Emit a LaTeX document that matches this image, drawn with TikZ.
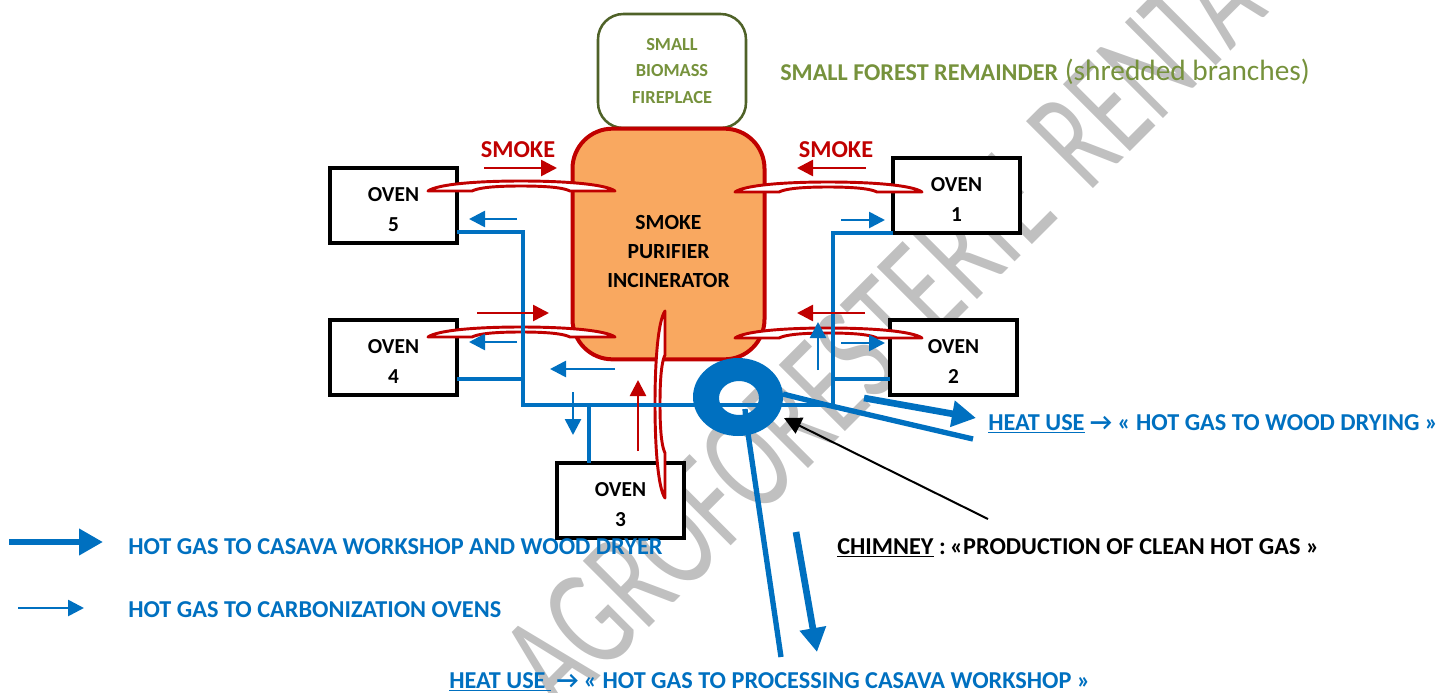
\documentclass[tikz,border=0pt]{standalone}
\usepackage{fontspec}
\usepackage{graphicx}
\setmainfont{Carlito}
\usetikzlibrary{arrows.meta}
\definecolor{bluegas}{HTML}{0070C0}
\definecolor{redsmoke}{HTML}{C00000}
\definecolor{olive}{HTML}{76923C}
\definecolor{olivedark}{HTML}{4F6228}
\definecolor{orangefill}{HTML}{F9A860}
\definecolor{wmgray}{HTML}{C0C0C0}
\newcommand{\lowertext}[1]{\rule{0pt}{#1}}
\tikzset{
  ovenbox/.style={draw=black,line width=2.8pt,fill=white,minimum width=95pt,minimum height=56pt,inner sep=0pt,font=\bfseries\fontsize{16}{22.5}\selectfont,align=center},
  pipeline/.style={draw=bluegas,line width=2.4pt},
  chimneyline/.style={draw=bluegas,line width=4pt},
  thinblue/.style={draw=bluegas,line width=2pt,-{Triangle[length=12pt,width=12pt]}},
  thinred/.style={draw=redsmoke,line width=2pt,-{Triangle[length=12pt,width=12pt]}},
  thickblue/.style={draw=bluegas,line width=5pt,-{Triangle[length=18pt,width=19pt]}},
  pipeshape/.style={draw=redsmoke,line width=2.2pt,fill=white,line join=round},
  bluelabel/.style={text=bluegas,font=\bfseries\fontsize{18.2}{22}\selectfont,inner sep=0pt},
  watermarktext/.style={rotate=45,anchor=south west,text=wmgray,inner sep=0pt,font=\fontsize{50}{50}\selectfont},
}
\newcommand{\smokepipe}{%
  \path[pipeshape] (0,0) .. controls (10,-7) and (50,-10) .. (93,-10)
    .. controls (136,-10) and (177,-7) .. (187,0) -- (142,0)
    .. controls (136,-3) and (122,-5) .. (93,-5)
    .. controls (64,-5) and (50,-3) .. (44,0) -- cycle;}
\begin{document}
\begin{tikzpicture}[x=0.75pt,y=-0.75pt]
\useasboundingbox (0,0) rectangle (1454,693);
\begin{scope}
\clip (0,0) rectangle (1454,693);
\node[watermarktext] (wmone) at (562,717) {\resizebox{530pt}{71pt}{AGROFORESTERIE}};
\node[watermarktext] (wmtwo) at (1088,194) {\resizebox{193pt}{71pt}{RENTA}};
\end{scope}
% boxes
\node[draw=olivedark,line width=1.9pt,fill=white,rounded corners=19pt,minimum width=111pt,minimum height=85.5pt,inner sep=0pt,text=olive,font=\bfseries\fontsize{13.8}{20}\selectfont,align=center] (fireplace) at (672,71) {SMALL\\BIOMASS\\FIREPLACE};
\node[draw=redsmoke,line width=3pt,fill=orangefill,rounded corners=30pt,minimum width=144pt,minimum height=173pt,inner sep=0pt,font=\bfseries\fontsize{16.2}{22}\selectfont,align=center] (purifier) at (668.5,244) {\lowertext{22pt}SMOKE\\PURIFIER\\INCINERATOR};
\node[ovenbox] (oven5) at (393.5,205.5) {\lowertext{16pt}OVEN\\5};
\node[ovenbox] (oven4) at (393.5,357.5) {\lowertext{16pt}OVEN\\4};
\node[ovenbox] (oven1) at (956.5,195.5) {\lowertext{16pt}OVEN\\1};
\node[ovenbox] (oven2) at (953.5,357.5) {\lowertext{16pt}OVEN\\2};
\node[ovenbox] (oven3) at (620.5,500.5) {\lowertext{16pt}OVEN\\3};
% pipes
\begin{scope}[shift={(428,191)}]\smokepipe\end{scope}
\begin{scope}[shift={(428,337)}]\smokepipe\end{scope}
\begin{scope}[shift={(735,192)}]\smokepipe\end{scope}
\begin{scope}[shift={(735,338)}]\smokepipe\end{scope}
\begin{scope}[shift={(665,311)},x={(0pt,-0.75pt)},y={(0.75pt,0pt)}]\smokepipe\end{scope}
% gas lines
\coordinate (t5) at (523,232); \coordinate (s5) at (457,232);
\coordinate (t4) at (523,379); \coordinate (s4) at (457,379);
\coordinate (tl) at (523,405); \coordinate (tr) at (833,405);
\coordinate (t1) at (833,233); \coordinate (s1) at (893,233);
\coordinate (t2) at (833,379); \coordinate (s2) at (890,379);
\coordinate (t3) at (589,405); \coordinate (s3) at (589,463);
\draw[pipeline] (s5) -- (t5) -- (tl) -- (tr) -- (t1) -- (s1);
\draw[pipeline] (s4) -- (t4);
\draw[pipeline] (s2) -- (t2);
\draw[pipeline] (t3) -- (s3);
% chimney
\coordinate (ringc) at (738,397);
\coordinate (holec) at (739,398);
\coordinate (stub) at (745,409);
\coordinate (stubb) at (746,420);
\coordinate (endb) at (781,657);
\coordinate (rstart) at (783,394);
\coordinate (rbend) at (827,405);
\coordinate (rend) at (973,439);
\draw[chimneyline] (stubb) -- (endb);
\draw[chimneyline] (rstart) -- (rbend) -- (rend);
\path[fill=bluegas,even odd rule] (ringc) ellipse [x radius=45,y radius=39] (holec) ellipse [x radius=20,y radius=17];
\draw[chimneyline] (stub) -- (stubb);
% arrows
\coordinate (a1a) at (517,219); \coordinate (a1b) at (469,219);
\draw[thinblue] (a1a) -- (a1b);
\coordinate (a2a) at (517,342); \coordinate (a2b) at (469,342);
\draw[thinblue] (a2a) -- (a2b);
\coordinate (a3a) at (615,369); \coordinate (a3b) at (550,369);
\draw[thinblue] (a3a) -- (a3b);
\coordinate (a4a) at (573,392); \coordinate (a4b) at (573,435);
\draw[thinblue] (a4a) -- (a4b);
\coordinate (a5a) at (818,370); \coordinate (a5b) at (818,322);
\draw[thinblue] (a5a) -- (a5b);
\coordinate (a6a) at (841,343); \coordinate (a6b) at (885,343);
\draw[thinblue] (a6a) -- (a6b);
\coordinate (a7a) at (841,220); \coordinate (a7b) at (885,220);
\draw[thinblue] (a7a) -- (a7b);
\coordinate (r1a) at (484,168); \coordinate (r1b) at (557,168);
\draw[thinred] (r1a) -- (r1b);
\coordinate (r2a) at (477,313); \coordinate (r2b) at (549,313);
\draw[thinred] (r2a) -- (r2b);
\coordinate (r3a) at (865,313); \coordinate (r3b) at (797,313);
\draw[thinred] (r3a) -- (r3b);
\coordinate (r4a) at (866,168); \coordinate (r4b) at (797,168);
\draw[thinred] (r4a) -- (r4b);
\coordinate (r5a) at (638,451); \coordinate (r5b) at (638,380);
\draw[thinred] (r5a) -- (r5b);
\coordinate (h1a) at (864,398); \coordinate (h1b) at (976,418);
\draw[thickblue] (h1a) -- (h1b);
\coordinate (h2a) at (796,532); \coordinate (h2b) at (817,652);
\draw[thickblue] (h2a) -- (h2b);
\coordinate (l1a) at (9,542); \coordinate (l1b) at (103,542);
\draw[thickblue] (l1a) -- (l1b);
\coordinate (l2a) at (18,608); \coordinate (l2b) at (84,608);
\draw[thinblue] (l2a) -- (l2b);
\coordinate (ch) at (988,519); \coordinate (chtip) at (784,418);
\draw[line width=1.5pt,-{Triangle[length=13pt,width=13pt]}] (ch) -- (chtip);
% labels
\node[anchor=west,inner sep=0pt,font=\fontsize{22}{24}\selectfont,text=olive] (forest) at (780,72) {\textbf{\fontsize{18.1}{20}\selectfont SMALL FOREST REMAINDER} (shredded branches)};
\node[text=redsmoke,font=\bfseries\fontsize{18.2}{20}\selectfont,inner sep=0pt] (smokel) at (518,150) {SMOKE};
\node[text=redsmoke,font=\bfseries\fontsize{18.2}{20}\selectfont,inner sep=0pt] (smoker) at (836,150) {SMOKE};
\node[bluelabel,anchor=west] (use1) at (988,424) {\underline{HEAT USE} → « HOT GAS TO WOOD DRYING »};
\node[bluelabel,anchor=west] (use2) at (449,682) {\underline{HEAT USE } → « HOT GAS TO PROCESSING CASAVA WORKSHOP »};
\node[bluelabel,anchor=west,text=black] (chimney) at (837,548) {\underline{CHIMNEY} :\hspace{-2.2pt} «PRODUCTION OF CLEAN HOT GAS »};
\node[bluelabel,anchor=west] (leg1) at (128,547) {HOT GAS TO CASAVA WORKSHOP AND WOOD DRYER};
\node[bluelabel,anchor=west] (leg2) at (128,610) {HOT GAS TO CARBONIZATION OVENS};
\end{tikzpicture}
\end{document}
